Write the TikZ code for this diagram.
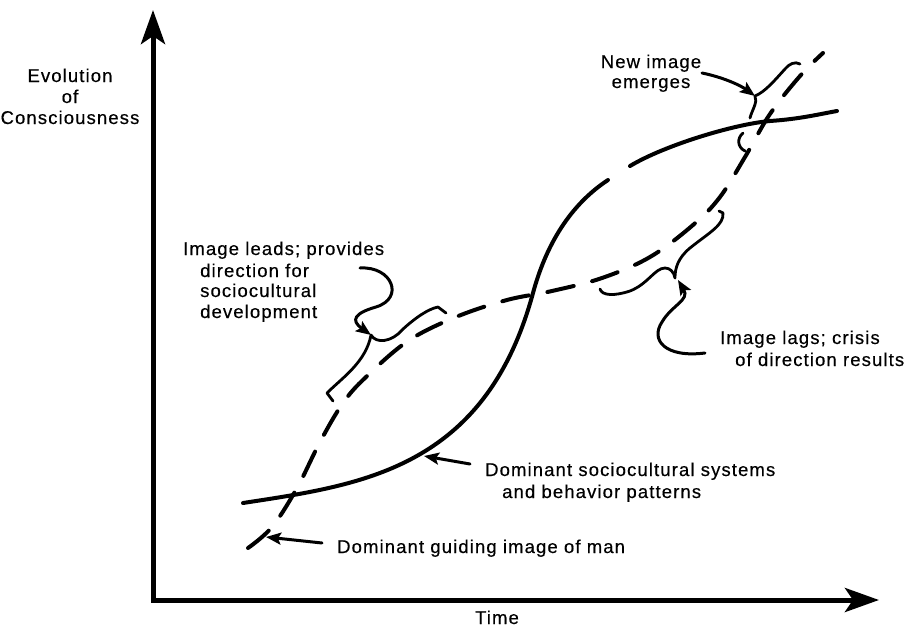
\documentclass[tikz,border=0pt]{standalone}
\usepackage{fontspec}
\setmainfont{Liberation Sans}[LetterSpace=6,FakeBold=0.4]
\usetikzlibrary{arrows.meta}
\begin{document}
\begin{tikzpicture}[x=1pt,y=-1pt,
  lbl/.style={font=\fontsize{18.5}{22}\selectfont, inner sep=0pt, anchor=base west},
  clbl/.style={font=\fontsize{18.5}{22}\selectfont, inner sep=0pt, anchor=base},
  curve/.style={line width=4pt, line cap=round},
  dashcurve/.style={curve, dash pattern=on 27pt off 19pt},
  bracestyle/.style={line width=2.8pt, line cap=round, line join=round},
  pointer/.style={line width=3pt, line cap=round, -{Stealth[length=15pt,width=12pt,inset=3pt]}},
  axis/.style={line width=5pt, line join=miter, {Stealth[length=34pt,width=24pt,inset=8pt]}-{Stealth[length=34pt,width=24pt,inset=8pt]}}]
\useasboundingbox (0,0) rectangle (906,627);

% axes
\coordinate (O) at (153,600);
\coordinate (ytip) at (153,10);
\coordinate (xtip) at (879,600);
\draw[axis] (ytip) -- (O) -- (xtip);

% axis labels
\node[clbl] (ylab1) at (70,82) {Evolution};
\node[clbl] (ylab2) at (70,103) {of};
\node[clbl] (ylab3) at (70,124) {Consciousness};
\node[clbl] (xlab) at (497,624) {Time};

% solid curve: dominant sociocultural systems
\draw[curve] (243,503) .. controls (360,485) and (485,470) .. (533,293)
  .. controls (546,245) and (570,205) .. (608,180);
\draw[curve] (630,166) .. controls (665,145) and (735,124) .. (770,121)
  .. controls (800,119) and (820,114) .. (837,111);

% dashed curve: dominant guiding image
\draw[dashcurve] plot[smooth, tension=0.6] coordinates {(248,548) (272,527) (297,488) (320,442) (343,403) (366,377) (408,341) (456,317) (507,300) (552,291) (602,278) (650,257) (693,225) (720,197) (745,157) (770,114) (800,76) (823,53)};

% brace 1: image leads
\draw[bracestyle] (333,401) -- (327,393) .. controls (342,378) and (366,362) .. (371,335)
  .. controls (376,344) and (392,342) .. (402,330) .. controls (415,318) and (428,309) .. (438,307) -- (446,313);
% brace 2: image lags
\draw[bracestyle] (600,289) .. controls (602,296) and (615,296) .. (630,291) .. controls (648,284) and (655,268) .. (665,268)
  .. controls (670,268) and (674,272) .. (675,278) .. controls (675,268) and (678,258) .. (690,248)
  .. controls (710,232) and (724,225) .. (723,213) -- (719,211);
% brace 3: new image emerges
\draw[bracestyle] (800,64) .. controls (795,61) and (789,64) .. (785,69) .. controls (775,80) and (765,92) .. (755,96)
  .. controls (758,102) and (752,110) .. (750,118);
\draw[bracestyle] (743,133) .. controls (737,138) and (737,147) .. (745,151);

% labels
\node[lbl] (lead1) at (183,255) {Image leads; provides};
\node[lbl] (lead2) at (200,277) {direction for};
\node[lbl] (lead3) at (200,297) {sociocultural};
\node[lbl] (lead4) at (200,318) {development};

\node[lbl] (lag1) at (720,344) {Image lags; crisis};
\node[lbl] (lag2) at (735,366) {of direction results};

\node[clbl] (new1) at (651,68) {New image};
\node[clbl] (new2) at (651,88) {emerges};

\node[lbl] (soc1) at (485,476) {Dominant sociocultural systems};
\node[lbl] (soc2) at (502,498) {and behavior patterns};

\node[lbl] (gui) at (337,553) {Dominant guiding image of man};

% pointers
\coordinate (p1s) at (360,268);
\coordinate (p1e) at (371,335);
\draw[pointer] (p1s) .. controls (392,266) and (405,298) .. (376,307) .. controls (355,313) and (350,320) .. (p1e);

\coordinate (p2s) at (705,353);
\coordinate (p2e) at (678,280);
\draw[pointer] (p2s) .. controls (665,358) and (650,340) .. (662,322) .. controls (672,305) and (690,300) .. (p2e);

\coordinate (p3s) at (702,73);
\coordinate (p3e) at (755,96);
\draw[pointer] (p3s) .. controls (722,77) and (740,85) .. (p3e);

\coordinate (p4s) at (470,464);
\coordinate (p4e) at (424,456);
\draw[pointer] (p4s) -- (p4e);

\coordinate (p5s) at (322,543);
\coordinate (p5e) at (266,537);
\draw[pointer] (p5s) -- (p5e);
\end{tikzpicture}
\end{document}
